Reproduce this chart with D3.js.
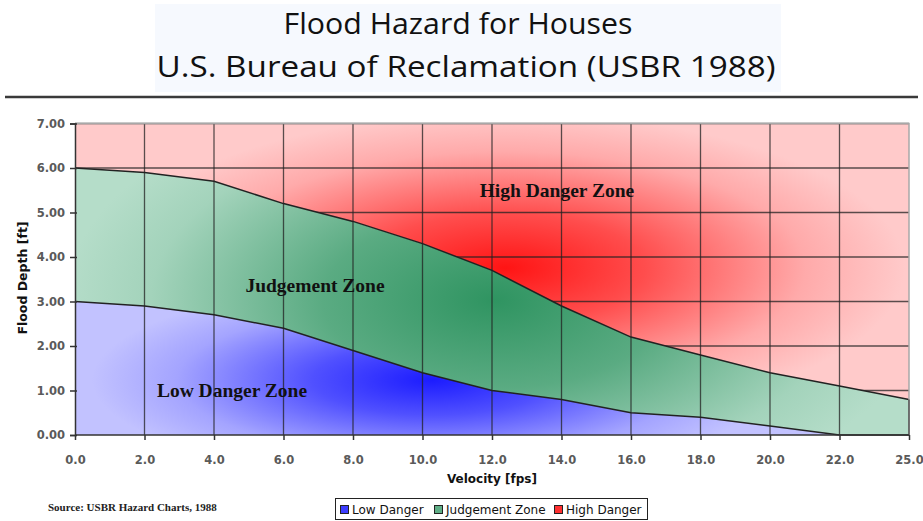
<!DOCTYPE html>
<meta charset="utf-8">
<style>
body { margin: 0; background: #fff; }
.axis text { font-family: "DejaVu Sans", Verdana, sans-serif; font-size: 11.5px; font-weight: bold; fill: #5a5a5a; }
.axis path, .axis line { stroke: #333; stroke-width: 1.5px; }
.grid { stroke: #222; stroke-opacity: 0.75; stroke-width: 1.3px; }
.edge { fill: none; stroke: #222; stroke-width: 1.5px; }
.zone { font-family: "Liberation Serif", "Times New Roman", serif; font-weight: bold; font-size: 19.5px; fill: #111; }
.legend text { font-family: "DejaVu Sans", Verdana, sans-serif; font-size: 12px; fill: #111; }
</style>
<svg width="923" height="521"></svg>
<script src="https://cdn.jsdelivr.net/npm/d3@7"></script>
<script>
// velocity categories (fps) - note the uneven last step 22 -> 25
var velocity = [0, 2, 4, 6, 8, 10, 12, 14, 16, 18, 20, 22, 25];
// upper edge of the low danger zone (ft)
var lowDanger = [3.0, 2.9, 2.7, 2.4, 1.9, 1.4, 1.0, 0.8, 0.5, 0.4, 0.2, 0.0, 0.0];
// upper edge of the judgement zone (ft)
var judgement = [6.0, 5.9, 5.7, 5.2, 4.8, 4.3, 3.7, 2.9, 2.2, 1.8, 1.4, 1.1, 0.8];
var yMax = 7;
var yTicks = [0, 1, 2, 3, 4, 5, 6, 7];
var legendItems = ["Low Danger", "Judgement Zone", "High Danger"];

var data = velocity.map(function(v, i) {
  return { v: v, low: lowDanger[i], judge: judgement[i] };
});

var svg = d3.select("svg"),
    plotBox = {left: 75, right: 909, top: 123.5, bottom: 435};

var x = d3.scalePoint().domain(velocity).range([plotBox.left, plotBox.right]).padding(0);
var y = d3.scaleLinear().domain([0, yMax]).range([plotBox.bottom, plotBox.top]);

// titles
svg.append("rect").attr("x", 155).attr("y", 4).attr("width", 626).attr("height", 88).attr("fill", "#f6f9fe");
svg.append("text").attr("x", 458).attr("y", 34).attr("text-anchor", "middle")
    .attr("font-family", "Open Sans, sans-serif").attr("font-size", 29).attr("fill", "#111")
    .attr("textLength", 349).attr("lengthAdjust", "spacingAndGlyphs")
    .text("Flood Hazard for Houses");
svg.append("text").attr("x", 466).attr("y", 77).attr("text-anchor", "middle")
    .attr("font-family", "Open Sans, sans-serif").attr("font-size", 29).attr("fill", "#111")
    .attr("textLength", 619).attr("lengthAdjust", "spacingAndGlyphs")
    .text("U.S. Bureau of Reclamation (USBR 1988)");
svg.append("line").attr("x1", 5).attr("x2", 918).attr("y1", 97).attr("y2", 97)
    .attr("stroke", "#3a3a3a").attr("stroke-width", 2.5);

// gradients (elliptical, centered where the colour is deepest)
var defs = svg.append("defs");
function radial(id, cx, cy, rx, ry, stops) {
  var g = defs.append("radialGradient").attr("id", id)
      .attr("gradientUnits", "userSpaceOnUse")
      .attr("cx", 0).attr("cy", 0).attr("r", 1)
      .attr("gradientTransform", "translate(" + cx + "," + cy + ") scale(" + rx + "," + ry + ")");
  stops.forEach(function(s) {
    g.append("stop").attr("offset", s[0]).attr("stop-color", s[1]);
  });
}
radial("gRed", 505, 268, 400, 155, [[0, "#ff1414"], [0.35, "#ff4d4d"], [0.75, "#ffaaaa"], [1, "#ffcaca"]]);
radial("gGreen", 495, 300, 430, 220, [[0, "#2f9461"], [0.4, "#5aab82"], [0.8, "#a3d3bb"], [1, "#b5ddc9"]]);
radial("gBlue", 432, 380, 340, 100, [[0, "#1c1cff"], [0.35, "#5050ff"], [0.75, "#a4a4ff"], [1, "#c2c2ff"]]);

var plot = svg.append("g");

var area = d3.area().x(function(d) { return x(d.v); });

plot.append("path").datum(data).attr("fill", "url(#gRed)")
    .attr("d", area.y0(function(d) { return y(d.judge); }).y1(function() { return y(yMax); }));

// horizontal gridlines (hidden under the green / blue zones)
plot.selectAll(".hgrid").data(yTicks.slice(1)).join("line")
    .attr("class", "grid")
    .attr("x1", plotBox.left).attr("x2", plotBox.right)
    .attr("y1", function(d) { return y(d); }).attr("y2", function(d) { return y(d); });

plot.append("path").datum(data).attr("fill", "url(#gGreen)")
    .attr("d", area.y0(function(d) { return y(d.low); }).y1(function(d) { return y(d.judge); }));
plot.append("path").datum(data).attr("fill", "url(#gBlue)")
    .attr("d", area.y0(function() { return y(0); }).y1(function(d) { return y(d.low); }));

// vertical gridlines
plot.selectAll(".vgrid").data(velocity.slice(1, -1)).join("line")
    .attr("class", "grid")
    .attr("x1", function(d) { return x(d); }).attr("x2", function(d) { return x(d); })
    .attr("y1", plotBox.top).attr("y2", plotBox.bottom);

// plot border (top/right) and zone edges
svg.append("path").attr("fill", "none").attr("stroke", "#a8a8a8").attr("stroke-width", 1.5)
    .attr("d", "M" + plotBox.left + "," + plotBox.top + "H" + plotBox.right + "V" + plotBox.bottom);
svg.append("line").attr("class", "grid").attr("x1", plotBox.right).attr("x2", plotBox.right)
    .attr("y1", y(judgement[judgement.length - 1])).attr("y2", plotBox.bottom);

var line = d3.line().x(function(d) { return x(d.v); });
plot.append("path").datum(data).attr("class", "edge").attr("d", line.y(function(d) { return y(d.judge); }));
plot.append("path").datum(data).attr("class", "edge").attr("d", line.y(function(d) { return y(d.low); }));

// axes
svg.append("g").attr("class", "axis")
    .attr("transform", "translate(" + plotBox.left + ",0)")
    .call(d3.axisLeft(y).tickValues(yTicks).tickFormat(d3.format(".2f")).tickSize(5).tickPadding(5))
    .call(function(g) { g.selectAll("line").attr("x2", -5).attr("x1", 2); });
svg.append("g").attr("class", "axis")
    .attr("transform", "translate(0," + plotBox.bottom + ")")
    .call(d3.axisBottom(x).tickFormat(d3.format(".1f")).tickSize(5).tickPadding(16))
    .call(function(g) { g.select(".domain").attr("d", "M" + plotBox.left + ",0H" + plotBox.right); });

// axis titles
svg.append("text").attr("transform", "translate(27,278) rotate(-90)")
    .attr("text-anchor", "middle").attr("font-family", "DejaVu Sans, sans-serif")
    .attr("font-size", 12.5).attr("font-weight", "bold").attr("fill", "#111")
    .text("Flood Depth [ft]");
svg.append("text").attr("x", 492).attr("y", 483)
    .attr("text-anchor", "middle").attr("font-family", "DejaVu Sans, sans-serif")
    .attr("font-size", 12).attr("font-weight", "bold").attr("fill", "#111")
    .text("Velocity [fps]");

// zone labels
svg.append("text").attr("class", "zone").attr("x", 557).attr("y", 197).attr("text-anchor", "middle").text("High Danger Zone");
svg.append("text").attr("class", "zone").attr("x", 315).attr("y", 292).attr("text-anchor", "middle").text("Judgement Zone");
svg.append("text").attr("class", "zone").attr("x", 232).attr("y", 397).attr("text-anchor", "middle").text("Low Danger Zone");

// source note
svg.append("text").attr("x", 48).attr("y", 511)
    .attr("font-family", "Liberation Serif, serif").attr("font-size", 11).attr("font-weight", "bold")
    .attr("fill", "#222").text("Source: USBR Hazard Charts, 1988");

// legend
var swatch = ["#3c3cff", "#5fae86", "#ff3030"];
var legend = svg.append("g").attr("class", "legend");
legend.append("rect").attr("x", 335.5).attr("y", 498.5).attr("width", 312).attr("height", 21)
    .attr("fill", "#fff").attr("stroke", "#222");
var offsets = [340, 434, 554];
legendItems.forEach(function(name, i) {
  legend.append("rect").attr("x", offsets[i] + 0.5).attr("y", 505.5).attr("width", 8).attr("height", 8)
      .attr("fill", swatch[i]).attr("stroke", "#222");
  legend.append("text").attr("x", offsets[i] + 12).attr("y", 514).text(name);
});
</script>
